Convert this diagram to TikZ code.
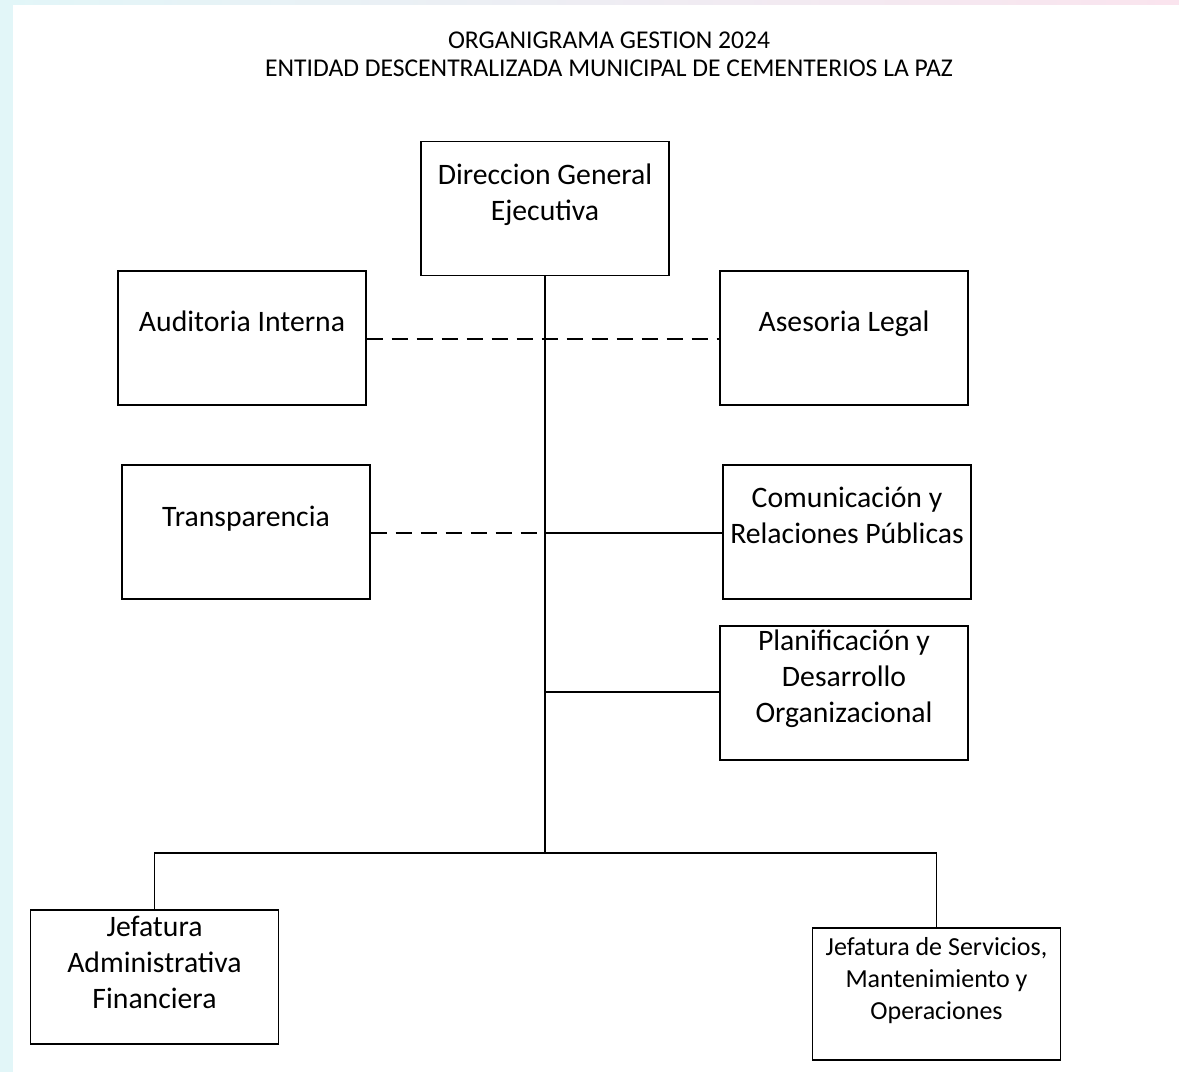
\documentclass[tikz,border=0pt]{standalone}
\usepackage{fontspec}
\setmainfont{Carlito}
\usepackage{tikz}

\definecolor{bgcyan}{RGB}{226,246,248}
\definecolor{bgpink}{RGB}{250,228,238}

\tikzset{
  unit/.style={draw, line width=1.2pt, minimum width=248, minimum height=134, inner sep=0pt},
  unittext/.style={align=center, font=\fontsize{29.7}{36}\selectfont},
  link/.style={line width=1.8pt},
  dashlink/.style={line width=1.8pt, dash pattern=on 16pt off 9pt}
}

\begin{document}
\begin{tikzpicture}[x=1pt, y=-1pt]
  % page and faint border
  \useasboundingbox (0,0) rectangle (1179,1072);
  \fill[white] (0,0) rectangle (1179,1072);
  \fill[bgcyan] (0,0) rectangle (13,1072);
  \shade[left color=bgcyan, right color=bgpink] (0,0) rectangle (1179,4);

  % title
  \node[align=center, font=\fontsize{25.6}{28}\selectfont] (title) at (609,54)
    {ORGANIGRAMA GESTION 2024\\ENTIDAD DESCENTRALIZADA MUNICIPAL DE CEMENTERIOS LA PAZ};

  % units
  \node[unit] (dir) at (545,208.5) {};
  \node[unit] (aud) at (242,338) {};
  \node[unit] (ase) at (844,338) {};
  \node[unit] (tra) at (246,532) {};
  \node[unit] (com) at (847,532) {};
  \node[unit] (pla) at (844,693) {};
  \node[unit] (adm) at (154.5,977) {};
  \node[unit, minimum height=132] (ser) at (936.5,994) {};

  % unit names
  \node[unittext] (dirT) at ([yshift=14]dir.center) {Direccion General\\Ejecutiva};
  \node[unittext] (audT) at ([yshift=17]aud.center) {Auditoria Interna};
  \node[unittext] (aseT) at ([yshift=14]ase.center) {Asesoria Legal};
  \node[unittext] (traT) at ([yshift=13]tra.center) {Transparencia};
  \node[unittext] (comT) at ([yshift=17]com.center) {Comunicación y\\Relaciones Públicas};
  \node[unittext] (plaT) at ([yshift=14]pla.center) {Planificación y\\Desarrollo\\Organizacional};
  \node[unittext] (admT) at ([yshift=15]adm.center) {Jefatura\\Administrativa\\Financiera};
  \node[unittext, font=\fontsize{26}{32}\selectfont] (serT) at ([yshift=13]ser.center)
    {Jefatura de Servicios,\\Mantenimiento y\\Operaciones};

  % trunk
  \coordinate (hub) at (dir.south |- 0,853);
  \draw[link] (dir.south) -- (hub);
  \draw[link] (hub) -| (adm.north);
  \draw[link] (hub) -| (ser.north);

  % staff and line units
  \draw[dashlink] (aud.east |- 0,339) -- (ase.west |- 0,339);
  \draw[dashlink] (tra.east |- 0,533) -- (dir.south |- 0,533);
  \draw[link] (dir.south |- 0,533) -- (com.west |- 0,533);
  \draw[link] (dir.south |- 0,692) -- (pla.west |- 0,692);
\end{tikzpicture}
\end{document}
